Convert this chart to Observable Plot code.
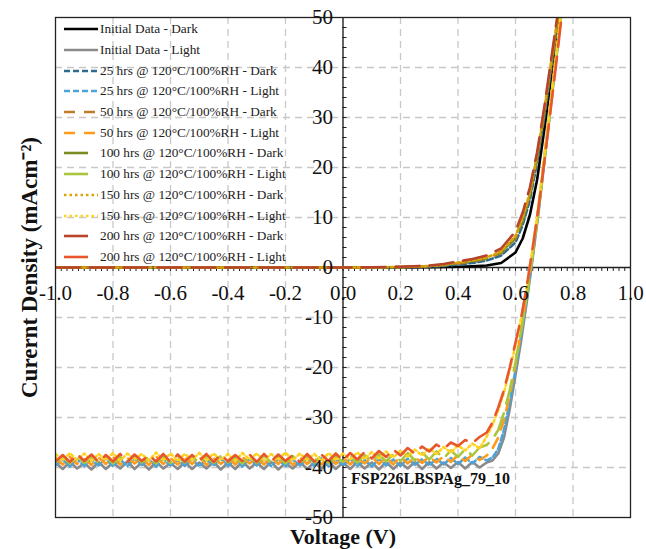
<!DOCTYPE html>
<html><head><meta charset="utf-8">
<script src="https://cdn.jsdelivr.net/npm/d3@7"></script>
<script src="https://cdn.jsdelivr.net/npm/@observablehq/plot@0.6"></script>
<style>
body{margin:0;background:#fff;}
#wrap{position:relative;width:646px;height:549px;font-family:"Liberation Serif","Times New Roman",serif;}
#wrap svg text{font-family:"Liberation Serif","Times New Roman",serif;}
#legend{position:absolute;left:62px;top:19px;}
.row{height:20.7px;display:flex;align-items:center;font-size:13.3px;color:#222;white-space:nowrap;}
.row svg{width:38px;height:10px;flex:none;}
</style></head>
<body><div id="wrap"><div id="legend"></div></div>
<script>
// ---------- data ----------
const xTickValues = [-1.0,-0.8,-0.6,-0.4,-0.2,0.0,0.2,0.4,0.6,0.8,1.0];
const xTickLabels = ["-1.0","-0.8","-0.6","-0.4","-0.2","0.0","0.2","0.4","0.6","0.8","1.0"];
const yTickValues = [50,40,30,20,10,0,-10,-20,-30,-40,-50];
const yTickLabels = ["50","40","30","20","10","0","-10","-20","-30","-40","-50"];

const darkV = [-1.0,-0.8,-0.6,-0.4,-0.2,0.0,0.1,0.2,0.3,0.35,0.4,0.45,0.5,0.55,0.6,0.625,0.65,0.675,0.7,0.725,0.75,0.775];
const lightV = [-1.000,-0.975,-0.950,-0.925,-0.900,-0.875,-0.850,-0.825,-0.800,-0.775,
 -0.750,-0.725,-0.700,-0.675,-0.650,-0.625,-0.600,-0.575,-0.550,-0.525,
 -0.500,-0.475,-0.450,-0.425,-0.400,-0.375,-0.350,-0.325,-0.300,-0.275,
 -0.250,-0.225,-0.200,-0.175,-0.150,-0.125,-0.100,-0.075,-0.050,-0.025,
 0.000,0.025,0.050,0.075,0.100,0.125,0.150,0.175,0.200,0.225,
 0.250,0.275,0.300,0.325,0.350,0.375,0.400,0.425,0.450,0.475,
 0.50,0.52,0.54,0.56,0.58,0.60,0.62,0.64,0.66,0.68,0.70,0.72,0.74,0.76,0.78];

const initDark = [0,0,0,0,0,0,0,0.02,0.05,0.1,0.15,0.25,0.4,0.9,3.0,5.8,10.5,17.5,27.5,38.5,49.5,61];
const h25Dark  = [0,0,0,0,0,0,0.02,0.05,0.15,0.3,0.6,0.9,1.4,2.4,5.0,8.5,13.5,21,30,40,50.5,61.5];
const h50Dark  = [0,0,0,0,0,0,0.03,0.08,0.25,0.45,0.8,1.2,1.8,2.9,5.8,9.5,14.5,22,31,41,51,62];
const h100Dark = [0,0,0,0,0,0,0.03,0.08,0.3,0.5,0.9,1.3,1.9,3.0,6.0,9.5,14.5,22,31,41,51,62];
const h150Dark = [0,0,0,0,0,0,0.03,0.1,0.3,0.55,1.0,1.4,2.0,3.2,6.3,10,15,22.5,31.5,41.5,51.5,62];
const h200Dark = [0,0,0,0,0,0,0.05,0.15,0.4,0.7,1.2,1.7,2.4,3.8,7.2,11,16,23,32,42,52,63];

const initLight = [-39.0,-40.3,-38.9,-40.2,-39.1,-40.4,-38.9,-40.3,-39.0,-40.2,
 -38.8,-40.3,-39.0,-40.4,-38.9,-40.2,-39.1,-40.3,-38.9,-40.3,
 -39.0,-40.2,-38.9,-40.4,-39.0,-40.3,-38.8,-40.2,-39.0,-40.3,
 -38.9,-40.4,-39.1,-40.2,-38.9,-40.3,-39.0,-40.2,-38.8,-40.3,
 -39.0,-40.3,-38.9,-40.2,-39.0,-40.4,-38.9,-40.3,-39.0,-40.2,
 -38.9,-40.3,-38.9,-40.2,-39.0,-40.1,-38.9,-40.2,-38.9,-40.0,
 -39.0,-38.6,-37.2,-34.0,-28.3,-21.5,-14.5,-6.5,2.0,11.0,21.0,31.0,41.0,51.0,61.0];
const h25Light = [-39.6,-38.4,-39.8,-38.3,-39.7,-38.5,-39.6,-38.2,-39.8,-38.4,
 -39.7,-38.3,-39.5,-38.4,-39.8,-38.3,-39.6,-38.5,-39.7,-38.3,
 -39.8,-38.4,-39.6,-38.2,-39.7,-38.4,-39.8,-38.3,-39.6,-38.5,
 -39.7,-38.3,-39.8,-38.4,-39.6,-38.3,-39.7,-38.2,-39.8,-38.4,
 -39.6,-38.3,-39.7,-38.5,-39.8,-38.3,-39.6,-38.4,-39.7,-38.2,
 -39.5,-38.3,-39.6,-38.2,-39.4,-38.1,-39.3,-38.0,-39.2,-37.9,
 -38.6,-38.0,-36.3,-32.5,-27.0,-20.5,-13.5,-6.0,2.5,11.5,21.5,31.5,41.5,51.5,61.5];
const h50Light = [-38.1,-39.4,-37.9,-39.3,-38.2,-39.5,-38.0,-39.3,-37.9,-39.4,
 -38.1,-39.2,-38.0,-39.5,-37.8,-39.3,-38.1,-39.4,-38.0,-39.3,
 -37.9,-39.5,-38.1,-39.3,-38.0,-39.4,-37.9,-39.2,-38.1,-39.4,
 -38.0,-39.3,-37.8,-39.5,-38.0,-39.3,-38.1,-39.4,-37.9,-39.3,
 -38.0,-39.4,-38.1,-39.2,-37.9,-39.3,-38.0,-39.4,-37.8,-39.2,
 -37.9,-39.1,-37.8,-39.0,-37.7,-38.9,-37.5,-38.7,-37.4,-38.5,
 -37.6,-36.2,-34.0,-30.5,-25.5,-19.5,-12.5,-5.0,3.0,12.0,22.0,32.0,42.0,52.0,62.0];
const h100Light = [-39.0,-37.8,-39.2,-37.6,-39.1,-37.8,-39.0,-37.7,-39.2,-37.9,
 -39.1,-37.6,-39.0,-37.8,-39.2,-37.7,-39.1,-37.8,-39.0,-37.6,
 -39.2,-37.8,-39.1,-37.7,-39.0,-37.9,-39.2,-37.7,-39.1,-37.6,
 -39.0,-37.8,-39.2,-37.7,-39.1,-37.8,-39.0,-37.6,-39.1,-37.7,
 -38.9,-37.6,-39.0,-37.5,-38.9,-37.4,-38.8,-37.3,-38.7,-37.1,
 -38.6,-37.0,-38.4,-36.8,-38.2,-36.6,-37.9,-36.3,-37.6,-36.0,
 -35.5,-34.3,-32.5,-29.0,-24.5,-19.0,-12.5,-5.5,2.5,11.5,21.0,31.0,41.0,51.0,61.0];
const h150Light = [-37.3,-38.6,-37.1,-38.5,-37.2,-38.7,-37.3,-38.5,-37.1,-38.6,
 -37.2,-38.4,-37.3,-38.6,-37.0,-38.5,-37.2,-38.7,-37.3,-38.5,
 -37.1,-38.6,-37.2,-38.5,-37.3,-38.7,-37.1,-38.4,-37.2,-38.6,
 -37.3,-38.5,-37.0,-38.6,-37.2,-38.5,-37.3,-38.7,-37.1,-38.5,
 -37.2,-38.4,-37.0,-38.3,-36.9,-38.2,-36.8,-38.0,-36.6,-37.8,
 -36.4,-37.6,-36.2,-37.3,-35.9,-37.0,-35.6,-36.6,-35.2,-36.2,
 -33.8,-31.5,-28.5,-25.0,-20.5,-15.5,-10.0,-3.5,4.0,12.5,22.0,32.0,42.0,52.0,62.0];
const h200Light = [-38.8,-37.5,-38.9,-37.3,-38.7,-37.4,-38.9,-37.5,-38.8,-37.3,
 -38.9,-37.4,-38.7,-37.5,-38.8,-37.3,-38.9,-37.4,-38.8,-37.5,
 -38.7,-37.3,-38.9,-37.4,-38.8,-37.5,-38.7,-37.4,-38.9,-37.3,
 -38.8,-37.4,-38.7,-37.5,-38.9,-37.3,-38.8,-37.4,-38.7,-37.2,
 -38.6,-37.1,-38.4,-36.9,-38.2,-36.7,-37.9,-36.4,-37.6,-36.1,
 -37.2,-35.8,-36.8,-35.4,-36.3,-35.0,-35.7,-34.5,-35.1,-33.9,
 -33.0,-31.0,-28.0,-24.5,-20.0,-15.0,-10.0,-3.5,4.0,12.0,21.0,30.5,40.0,50.0,60.0];

const seriesNames = ["Initial Data - Dark","Initial Data - Light",
 "25 hrs @ 120°C/100%RH - Dark","25 hrs @ 120°C/100%RH - Light",
 "50 hrs @ 120°C/100%RH - Dark","50 hrs @ 120°C/100%RH - Light",
 "100 hrs @ 120°C/100%RH - Dark","100 hrs @ 120°C/100%RH - Light",
 "150 hrs @ 120°C/100%RH - Dark","150 hrs @ 120°C/100%RH - Light",
 "200 hrs @ 120°C/100%RH - Dark","200 hrs @ 120°C/100%RH - Light"];
const seriesColors = ["#000000","#8a8a8a","#2f6b8f","#4ba3d8","#c07a28","#ff9a1a",
 "#7b8b22","#a9c63e","#d9a400","#ffd21f","#b8432a","#e8572c"];
const seriesDash = [null,null,"6,3","6,3","11,9","11,9","24,10","24,10","2.5,3","2.5,3","24,10","24,10"];
const seriesValues = [initDark,initLight,h25Dark,h25Light,h50Dark,h50Light,h100Dark,h100Light,h150Dark,h150Light,h200Dark,h200Light];
const sampleLabel = "FSP226LBSPAg_79_10";
const sampleLabelPos = {V: 0.028, J: -42.2};

// ---------- build ----------
const series = seriesNames.map((name, i) => {
  const volts = i % 2 === 0 ? darkV : lightV;
  return {name, color: seriesColors[i], dash: seriesDash[i],
    rows: seriesValues[i].map((J, k) => ({V: volts[k], J}))};
});
const xMinor = d3.range(-50, 51).map(d => d / 50);
const yMinor = d3.range(-25, 26).map(d => d * 2);
const xGrid = xTickValues.filter(d => d !== 0 && Math.abs(d) !== 1);
const yGrid = yTickValues.filter(d => d !== 0 && Math.abs(d) !== 50);
const serif = "Liberation Serif, Times New Roman, serif";

const chart = Plot.plot({
  width: 646, height: 549,
  marginLeft: 55, marginRight: 16, marginTop: 17, marginBottom: 32,
  x: {domain: [-1, 1], axis: null},
  y: {domain: [-50, 50], axis: null},
  style: {fontFamily: serif, background: "white"},
  marks: [
    Plot.ruleX(xGrid, {stroke: "#c8c8c8", strokeWidth: 1.3, strokeDasharray: "7,5"}),
    Plot.ruleY(yGrid, {stroke: "#c8c8c8", strokeWidth: 1.3, strokeDasharray: "7,5"}),
    Plot.ruleX(xMinor, {y1: 0, y2: -0.8, stroke: "#222", strokeWidth: 1}),
    Plot.ruleY(yMinor, {x1: 0, x2: 0.014, stroke: "#222", strokeWidth: 1}),
    Plot.ruleY([0], {stroke: "#222", strokeWidth: 1.3}),
    Plot.ruleX([0], {stroke: "#111", strokeWidth: 1.3}),
    ...series.map(s => Plot.line(s.rows, {x: "V", y: "J", stroke: s.color, strokeWidth: 2.6,
      strokeDasharray: s.dash, clip: true})),
    Plot.frame({stroke: "#222", strokeWidth: 1.3}),
    Plot.text(xTickValues, {x: d => d, y: 0, dy: 26, text: (d, i) => xTickLabels[i],
      fontSize: 21, fill: "#111", fontFamily: serif}),
    Plot.text(yTickValues, {x: 0, y: d => d, dx: -10, text: (d, i) => yTickLabels[i],
      textAnchor: "end", fontSize: 21, fill: "#111", fontFamily: serif}),
    Plot.text([sampleLabel], {x: sampleLabelPos.V, y: sampleLabelPos.J, text: d => d,
      textAnchor: "start", fontSize: 16, fontWeight: "bold", fill: "#111", fontFamily: serif}),
    Plot.text(["Voltage (V)"], {frameAnchor: "bottom", dy: 19, lineAnchor: "middle", textAnchor: "middle",
      text: d => d, fontSize: 22, fontWeight: "bold", fill: "#111", fontFamily: serif}),
    Plot.text(["Curernt Density (mAcm⁻²)"], {frameAnchor: "left", dx: -26, rotate: -90,
      textAnchor: "middle", lineAnchor: "middle", text: d => d,
      fontSize: 23, fontWeight: "bold", fill: "#111", fontFamily: serif})
  ]
});
const wrap = document.getElementById("wrap");
wrap.insertBefore(chart, wrap.firstChild);

const legend = document.getElementById("legend");
series.forEach(s => {
  const row = document.createElement("div");
  row.className = "row";
  row.innerHTML = `<svg><line x1="2" x2="36" y1="5" y2="5" stroke="${s.color}" stroke-width="2.6" ${s.dash ? `stroke-dasharray="${s.dash}"` : ""}/></svg><span>${s.name}</span>`;
  legend.appendChild(row);
});
</script></body></html>
